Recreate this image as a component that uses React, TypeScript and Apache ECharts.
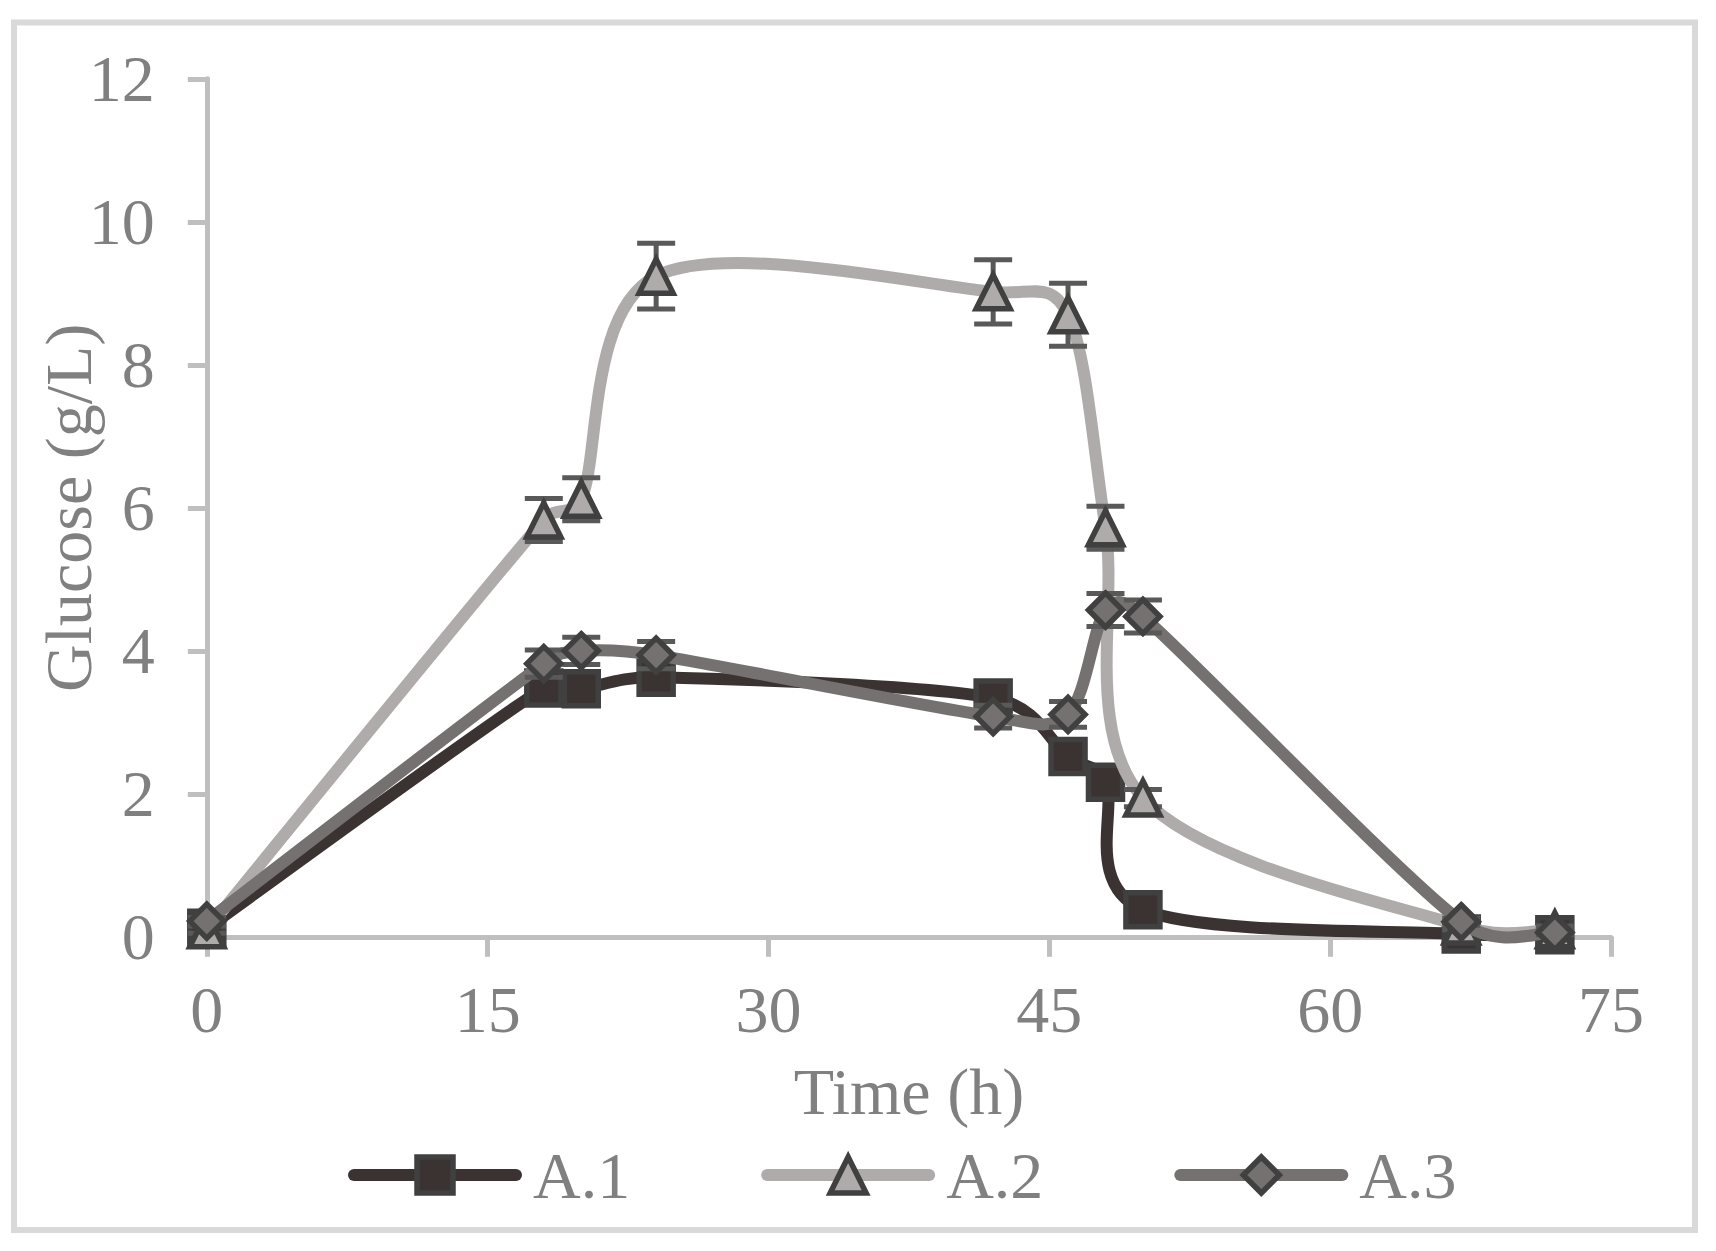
import React, { useEffect, useRef } from "react";
import * as echarts from "echarts";

const times = [0, 18, 20, 24, 42, 46, 48, 50, 67, 72];
const a1 = [0.12, 3.48, 3.47, 3.63, 3.34, 2.52, 2.16, 0.38, 0.04, 0.03];
const a2 = [0.1, 5.83, 6.12, 9.24, 9.02, 8.7, 5.72, 1.94, 0.15, 0.1];
const a3 = [0.22, 3.82, 4.0, 3.94, 3.08, 3.11, 4.57, 4.48, 0.21, 0.06];
const a1Err = [0.05, 0.1, 0.1, 0.1, 0.1, 0.1, 0.1, 0.1, 0.02, 0.02];
const a2Err = [0.05, 0.3, 0.3, 0.46, 0.45, 0.44, 0.3, 0.12, 0.05, 0.05];
const a3Err = [0.05, 0.19, 0.19, 0.19, 0.16, 0.18, 0.23, 0.23, 0.05, 0.03];
const seriesNames = ["A.1", "A.2", "A.3"];
const xTitle = "Time (h)";
const yTitle = "Glucose (g/L)";

const FONT = "'Liberation Serif', 'Times New Roman', serif";
const TEXT = "#808080";
const AXIS = "#bfbfbf";
const MARK_BORDER = "#404040";
const ERR = "#595959";
const LINE_W = 12;
const MARK_BW = 5.5;

const defs = [
  { name: seriesNames[0], values: a1, errs: a1Err, color: "#3a3331", symbol: "rect" },
  { name: seriesNames[1], values: a2, errs: a2Err, color: "#afabab", symbol: "triangle" },
  { name: seriesNames[2], values: a3, errs: a3Err, color: "#767171", symbol: "diamond" },
];

// Spreadsheet-style smoothed segment (tension 1/6, arm limited to half the segment)
function segmentControls(p: number[][], i: number) {
  const p0 = p[i - 1] || p[i];
  const p1 = p[i];
  const p2 = p[i + 1];
  const p3 = p[i + 2] || p[i + 1];
  const dist = (a: number[], b: number[]) => Math.hypot(a[0] - b[0], a[1] - b[1]);
  const d02 = dist(p0, p2);
  const d12 = dist(p1, p2);
  const d13 = dist(p1, p3);
  const f1 = d02 / 6 < d12 / 2 || d02 === 0 ? 1 / 6 : d12 / (2 * d02);
  const f2 = d13 / 6 < d12 / 2 || d13 === 0 ? 1 / 6 : d12 / (2 * d13);
  return {
    cpx1: p1[0] + (p2[0] - p0[0]) * f1,
    cpy1: p1[1] + (p2[1] - p0[1]) * f1,
    cpx2: p2[0] - (p3[0] - p1[0]) * f2,
    cpy2: p2[1] - (p3[1] - p1[1]) * f2,
  };
}

export default function App() {
  const ref = useRef<HTMLDivElement>(null);
  useEffect(() => {
    if (!ref.current) return;
    const chart = echarts.init(ref.current, undefined, { renderer: "svg" });
    const series: any[] = [];
    defs.forEach((d, i) => {
      const pts = times.map((t, k) => [t, d.values[k]]);
      const baseZ = 2 + i * 4;
      // legend carrier (line drawn by custom series below)
      series.push({
        type: "line",
        name: d.name,
        data: pts,
        symbol: d.symbol,
        symbolSize: 34,
        showSymbol: false,
        z: baseZ,
        lineStyle: { color: d.color, width: LINE_W, opacity: 0 },
        itemStyle: { color: d.color, borderColor: MARK_BORDER, borderWidth: MARK_BW },
        emphasis: { disabled: true },
        silent: true,
      });
      series.push({
        type: "custom",
        name: d.name + " curve",
        z: baseZ + 1,
        data: pts,
        encode: { x: 0, y: 1 },
        renderItem: (params: any, api: any) => {
          const k = params.dataIndex;
          if (k >= pts.length - 1) return { type: "group", children: [] };
          const px = pts.map((q) => api.coord(q));
          const c = segmentControls(px, k);
          return {
            type: "bezierCurve",
            shape: {
              x1: px[k][0],
              y1: px[k][1],
              x2: px[k + 1][0],
              y2: px[k + 1][1],
              ...c,
            },
            style: { stroke: d.color, lineWidth: LINE_W, fill: "none", lineCap: "round" },
          };
        },
        silent: true,
      });
      series.push({
        type: "custom",
        name: d.name + " err",
        z: baseZ + 2,
        data: times.map((t, k) => [t, d.values[k] - d.errs[k], d.values[k] + d.errs[k]]),
        renderItem: (params: any, api: any) => {
          const x = api.value(0);
          const lo = api.coord([x, api.value(1)]);
          const hi = api.coord([x, api.value(2)]);
          const hw = 19;
          const style = { stroke: ERR, lineWidth: 5, fill: "none" };
          return {
            type: "group",
            children: [
              { type: "line", shape: { x1: lo[0], y1: lo[1], x2: hi[0], y2: hi[1] }, style },
              { type: "line", shape: { x1: lo[0] - hw, y1: lo[1], x2: lo[0] + hw, y2: lo[1] }, style },
              { type: "line", shape: { x1: hi[0] - hw, y1: hi[1], x2: hi[0] + hw, y2: hi[1] }, style },
            ],
          };
        },
        encode: { x: 0, y: [1, 2] },
        silent: true,
      });
      series.push({
        type: "scatter",
        name: d.name + " marker",
        data: pts,
        symbol: d.symbol,
        symbolSize: 34,
        z: baseZ + 3,
        itemStyle: { color: d.color, borderColor: MARK_BORDER, borderWidth: MARK_BW, opacity: 1 },
        emphasis: { disabled: true },
        silent: true,
      });
    });

    chart.setOption({
      animation: false,
      backgroundColor: "#ffffff",
      grid: {
        left: 206.8,
        top: 78.8,
        right: 105,
        bottom: 314.2,
        containLabel: false,
        outerBoundsMode: "none",
      },
      xAxis: {
        type: "value",
        min: 0,
        max: 75,
        interval: 15,
        name: xTitle,
        nameLocation: "middle",
        nameGap: 122,
        nameMoveOverlap: false,
        nameTextStyle: { fontFamily: FONT, fontSize: 66, color: TEXT },
        axisLine: { show: true, onZero: false, lineStyle: { color: AXIS, width: 5 } },
        axisTick: { show: true, inside: false, length: 20, lineStyle: { color: AXIS, width: 5 } },
        axisLabel: { margin: 40, fontFamily: FONT, fontSize: 66, color: TEXT },
        splitLine: { show: false },
      },
      yAxis: {
        type: "value",
        min: 0,
        max: 12,
        interval: 2,
        name: yTitle,
        nameLocation: "middle",
        nameGap: 105,
        nameRotate: 90,
        nameMoveOverlap: false,
        nameTextStyle: { fontFamily: FONT, fontSize: 66, color: TEXT },
        axisLine: { show: true, onZero: false, lineStyle: { color: AXIS, width: 5 } },
        axisTick: { show: true, inside: false, length: 19, lineStyle: { color: AXIS, width: 5 } },
        axisLabel: { margin: 52, fontFamily: FONT, fontSize: 66, color: TEXT },
        splitLine: { show: false },
      },
      legend: {
        data: seriesNames,
        left: 343,
        top: 1137,
        orient: "horizontal",
        itemWidth: 162,
        itemHeight: 45,
        itemGap: 131,
        textStyle: { fontFamily: FONT, fontSize: 66, color: TEXT, padding: [0, 0, 0, 12] },
        lineStyle: { width: LINE_W, opacity: 1, cap: "round" },
        itemStyle: { borderColor: MARK_BORDER, borderWidth: MARK_BW },
        selectedMode: false,
      },
      graphic: [
        {
          type: "rect",
          shape: { x: 14, y: 22.5, width: 1681, height: 1207.5 },
          style: { fill: "none", stroke: "#d9d9d9", lineWidth: 6 },
          z: 0,
          silent: true,
        },
      ],
      series,
    });
    return () => chart.dispose();
  }, []);
  return (
    <div
      ref={ref}
      style={{ position: "absolute", left: 0, top: 0, width: 1716, height: 1251, background: "#fff" }}
    />
  );
}
